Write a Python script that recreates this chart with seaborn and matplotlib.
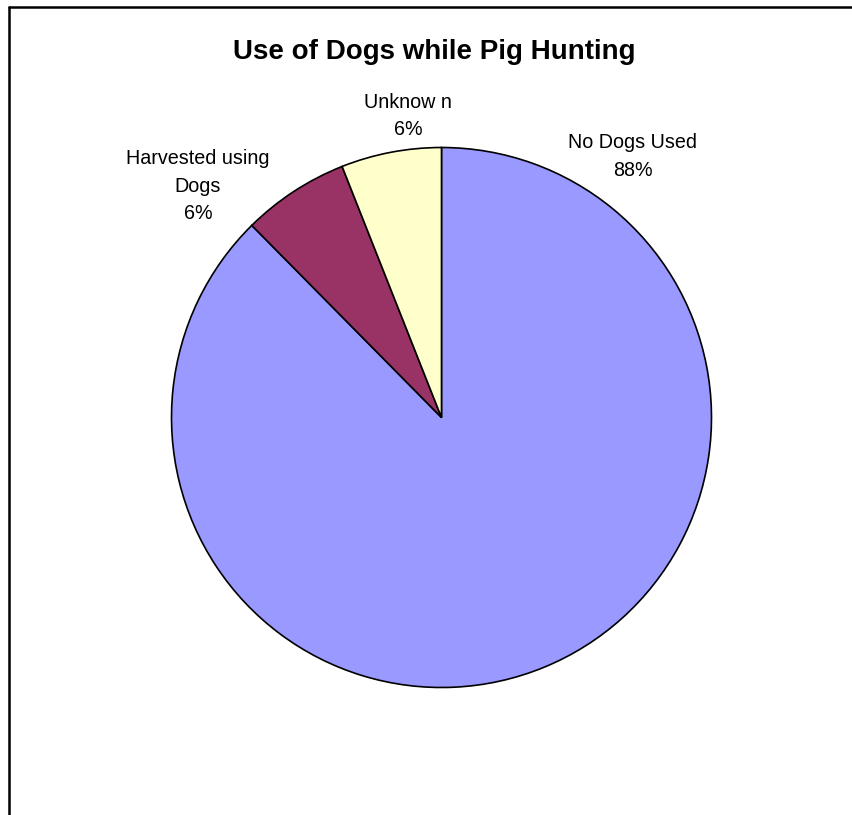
import matplotlib
matplotlib.use("Agg")
import matplotlib.pyplot as plt
from matplotlib.lines import Line2D
import seaborn as sns

# Share of pigs by whether dogs were used during the hunt
categories = ["No Dogs Used", "Harvested using\nDogs", "Unknow n"]
shares = [87.6, 6.4, 6.0]
slice_colors = ["#9999FF", "#993366", "#FFFFCC"]

# Label anchor points (pixels, figure top-left origin)
label_px = [(633, 156.5), (198, 186), (408, 116)]

sns.set_theme(style="white")
plt.rcParams["font.family"] = ["Liberation Sans", "DejaVu Sans"]
plt.rcParams["text.color"] = "black"

W, H = 852, 815
fig = plt.figure(figsize=(W / 100, H / 100), dpi=100)
fig.patch.set_facecolor("white")

cx, cy, r = 441.5, 417.5, 270.0
ax = fig.add_axes([(cx - r) / W, (H - cy - r) / H, 2 * r / W, 2 * r / H])

palette = sns.color_palette(slice_colors)
ax.pie(shares, colors=palette, startangle=90, counterclock=False, radius=1,
       wedgeprops=dict(edgecolor="black", linewidth=1.2))
ax.set_xlim(-1, 1)
ax.set_ylim(-1, 1)
ax.set_aspect("equal")
ax.axis("off")

for name, val, (px, py) in zip(categories, shares, label_px):
    ax.text((px - cx) / r, (cy - py) / r, f"{name}\n{val:.0f}%",
            ha="center", va="center", fontsize=14.2, linespacing=1.58,
            color="black", clip_on=False)

fig.text(434 / W, 1 - 52 / H, "Use of Dogs while Pig Hunting",
         ha="center", va="center", fontsize=20, fontweight="bold",
         color="black")

# Chart frame (top and left edges visible)
fig.add_artist(Line2D([8.5 / W, 1.0], [1 - 6.5 / H, 1 - 6.5 / H],
                      transform=fig.transFigure, color="black", lw=1.8))
fig.add_artist(Line2D([8.5 / W, 8.5 / W], [0.0, 1 - 6.5 / H],
                      transform=fig.transFigure, color="black", lw=1.8))

fig.savefig("out.png", dpi=100, facecolor="white")
